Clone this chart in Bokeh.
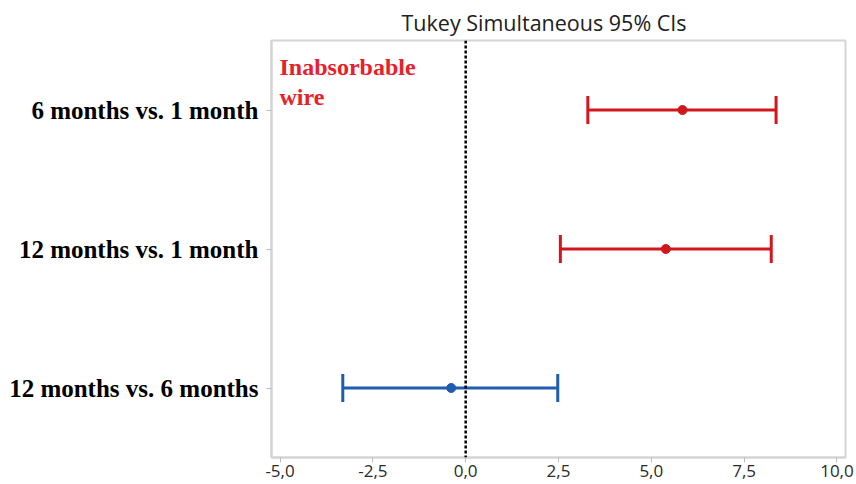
from bokeh.plotting import figure
from bokeh.models import (ColumnDataSource, Whisker, TeeHead, Span, Label,
                          FixedTicker, Range1d)
from bokeh.embed import file_html
from bokeh.resources import INLINE

# ---- data ----
comparisons = ["6 months vs. 1 month", "12 months vs. 1 month", "12 months vs. 6 months"]
row_pos = [3, 2, 1]
centers = [5.84, 5.39, -0.39]
lowers = [3.29, 2.55, -3.31]
uppers = [8.36, 8.23, 2.48]
colors = ["#d2161e", "#d2161e", "#1f5db0"]
x_ticks = [-5.0, -2.5, 0.0, 2.5, 5.0, 7.5, 10.0]
x_tick_labels = ["-5,0", "-2,5", "0,0", "2,5", "5,0", "7,5", "10,0"]
title_text = "Tukey Simultaneous 95% CIs"
note_lines = ["Inabsorbable", "wire"]

src = ColumnDataSource(dict(y=row_pos, c=centers, lo=lowers, hi=uppers, color=colors))

p = figure(width=856, height=484, output_backend="svg", toolbar_location=None,
           x_range=Range1d(-5.23, 10.23), y_range=Range1d(0.5, 3.5),
           min_border_left=271, min_border_right=11, min_border_top=40,
           min_border_bottom=27)
p.background_fill_color = "white"
p.border_fill_color = "white"
p.outline_line_color = "#d4d4d4"
p.outline_line_width = 2
p.xgrid.visible = False
p.ygrid.visible = False

p.title.text = title_text
p.title.align = "left"
p.title.offset = 130
p.title.text_font = "Open Sans"
p.title.text_font_size = "21.5px"
p.title.text_font_style = "normal"
p.title.text_color = "#202020"
p.title.standoff = 8

# zero reference line
p.add_layout(Span(location=0, dimension="height", line_color="black",
                  line_width=2.5, line_dash="3 2"))

# intervals
for i in range(len(row_pos)):
    s = ColumnDataSource(dict(y=[row_pos[i]], lo=[lowers[i]], hi=[uppers[i]]))
    w = Whisker(source=s, base="y", lower="lo", upper="hi", dimension="width",
                line_color=colors[i], line_width=3,
                lower_head=TeeHead(size=28, line_color=colors[i], line_width=3),
                upper_head=TeeHead(size=28, line_color=colors[i], line_width=3))
    p.add_layout(w)

p.scatter(x="c", y="y", source=src, size=9, color="color", line_color="color")

# axes
p.xaxis.ticker = FixedTicker(ticks=x_ticks)
p.xaxis.major_label_overrides = {t: l for t, l in zip(x_ticks, x_tick_labels)}
p.xaxis.minor_tick_line_color = None
p.xaxis.major_tick_out = 5
p.xaxis.major_tick_in = 0
p.xaxis.major_tick_line_color = "#bdbdbd"
p.xaxis.axis_line_color = "#d4d4d4"
p.xaxis.axis_line_width = 2
p.xaxis.major_label_text_font = "Open Sans"
p.xaxis.major_label_text_font_size = "17px"
p.xaxis.major_label_text_color = "#2a2a2a"
p.xaxis.major_label_standoff = 2

p.yaxis.ticker = FixedTicker(ticks=row_pos)
p.yaxis.major_label_overrides = {r: c for r, c in zip(row_pos, comparisons)}
p.yaxis.minor_tick_line_color = None
p.yaxis.major_tick_out = 5
p.yaxis.major_tick_in = 0
p.yaxis.major_tick_line_color = "#bdbdbd"
p.yaxis.axis_line_color = "#d4d4d4"
p.yaxis.axis_line_width = 2
p.yaxis.major_label_text_font = "Liberation Serif"
p.yaxis.major_label_text_font_style = "bold"
p.yaxis.major_label_text_font_size = "25px"
p.yaxis.major_label_text_color = "black"
p.yaxis.major_label_standoff = 8

# note
for txt, yy in zip(note_lines, [391, 361]):
    p.add_layout(Label(x=8, y=yy, x_units="screen", y_units="screen", text=txt,
                       text_font="Liberation Serif", text_font_style="bold",
                       text_font_size="24px", text_color="#e8202a",
                       text_baseline="alphabetic", text_align="left"))

open("out.html", "w").write(file_html(p, INLINE))
